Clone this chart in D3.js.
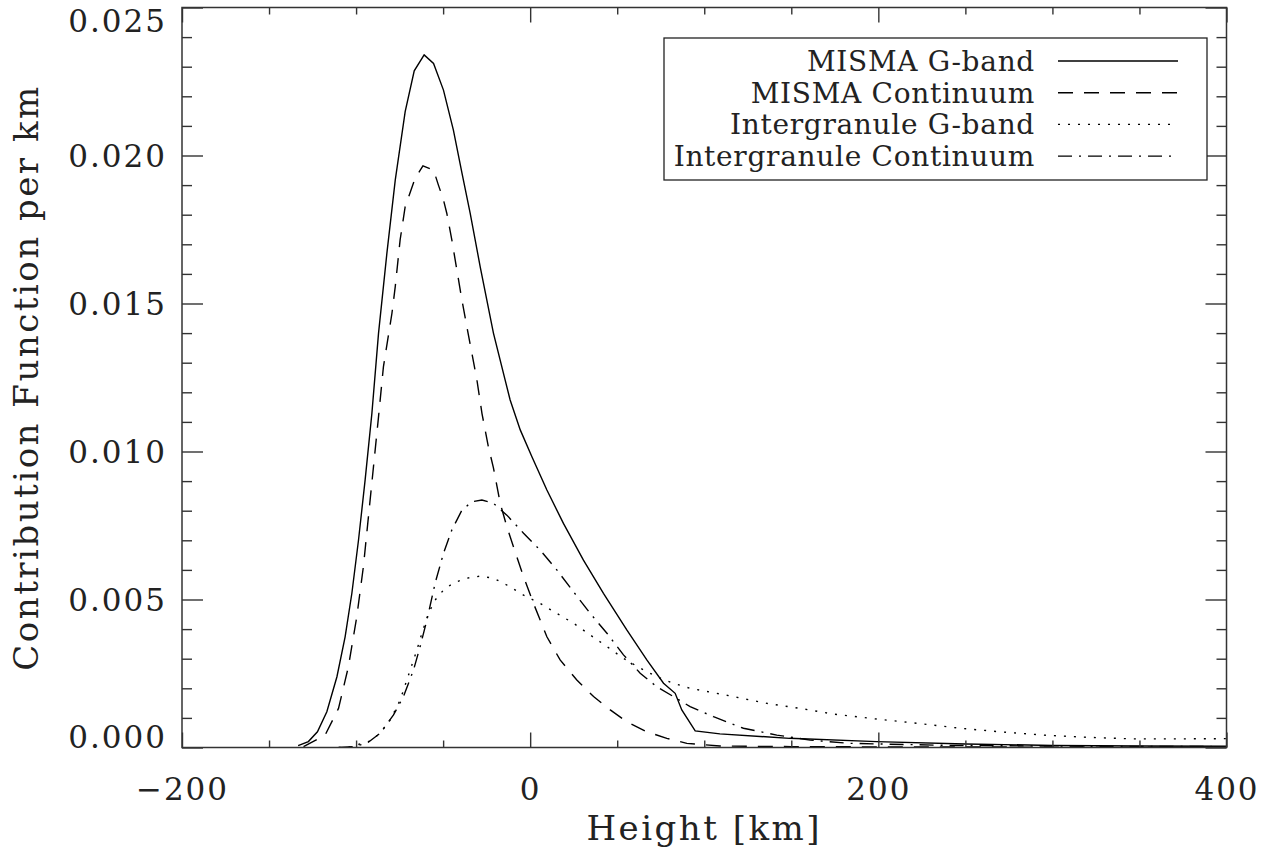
<!DOCTYPE html>
<html><head><meta charset="utf-8">
<script src="https://cdn.jsdelivr.net/npm/d3@7"></script>
<style>body{margin:0;background:#fff}</style>
</head><body><svg id="c" width="1273" height="856"></svg>
<script>
// ---- data ----
const xTickValues = [-200, 0, 200, 400];
const xMinorTicks = [-150, -100, -50, 50, 100, 150, 250, 300, 350];
const yTickValues = [0, 0.005, 0.010, 0.015, 0.020, 0.025];
const yMinorTicks = [0.001,0.002,0.003,0.004,0.006,0.007,0.008,0.009,0.011,0.012,0.013,0.014,0.016,0.017,0.018,0.019,0.021,0.022,0.023,0.024];
const seriesNames = ["MISMA G-band", "MISMA Continuum", "Intergranule G-band", "Intergranule Continuum"];
const xTitle = "Height [km]";
const yTitle = "Contribution Function per km";

const mismaGbandX = [-133.3,-127.4,-122.2,-116.8,-111.0,-106.3,-102.4,-98.6,-94.8,-90.9,-87.1,-82.3,-77.5,-71.8,-66.6,-60.9,-55.5,-49.8,-44.1,-39.2,-34.5,-28.7,-21.1,-14.4,-11.5,-5.7,1.0,9.6,19.1,30.6,42.1,55.5,67.0,76.6,83.3,87.1,94.8,109,149,199,250,300,350,400];
const mismaGbandY = [0.00006,0.0002,0.00053,0.00121,0.00239,0.00374,0.00522,0.00701,0.00904,0.0113,0.0140,0.0167,0.01917,0.02148,0.02286,0.0234,0.02311,0.02221,0.02086,0.01941,0.01806,0.01624,0.0140,0.01242,0.01174,0.01073,0.00982,0.0087,0.00757,0.00633,0.00521,0.00397,0.00296,0.00217,0.00183,0.00127,0.00056,0.00046,0.00031,0.0002,0.00012,0.00007,0.00005,0.00004];

const mismaContX = [-130.2,-117.8,-110.1,-104.4,-99.6,-95.8,-92.9,-90.0,-87.1,-84.3,-79.4,-77.5,-74.7,-71.8,-66.1,-61.6,-55.5,-52.7,-49.8,-47.9,-45.0,-42.1,-39.2,-36.0,-30.6,-27.7,-24.0,-21.1,-17.2,-13.4,-9.6,-3.8,1.9,9.6,17.2,26.8,36.4,46.0,55.5,67.0,78.5,90.0,109,150,200,250,300,350,400];
const mismaContY = [0.00003,0.00042,0.00132,0.00273,0.00442,0.00611,0.0078,0.00949,0.01118,0.01286,0.01467,0.01557,0.01715,0.01827,0.01923,0.01965,0.01951,0.0190,0.0185,0.01805,0.01715,0.01613,0.01512,0.0141,0.01242,0.01129,0.01016,0.00945,0.00825,0.00746,0.00678,0.00577,0.00487,0.00374,0.00296,0.00228,0.00172,0.00127,0.00087,0.00053,0.00031,0.00014,0.00005,0.00003,0.00002,0.00002,0.00001,0.00001,0.00001];

const interGbandX = [-110,-103.4,-91.9,-86.2,-80.4,-74.7,-68.9,-65.1,-62.2,-58.4,-54.6,-49.8,-44.1,-36.4,-28.7,-21.1,-13.4,-3.8,5.7,15.3,24.9,34.5,44.1,53.6,63.2,72.8,82.3,91.9,116.8,136,155.1,174.2,199.2,222.1,247,270,294.9,321.7,346.6,369.5,400];
const interGbandY = [0,0.00002,0.00022,0.00048,0.00093,0.0016,0.00262,0.00329,0.00386,0.00453,0.00498,0.00532,0.00556,0.00572,0.00579,0.00572,0.00549,0.00515,0.00487,0.00453,0.0042,0.0038,0.00341,0.00301,0.00268,0.00239,0.00217,0.0020,0.00172,0.00149,0.00132,0.00113,0.00096,0.00082,0.00065,0.00053,0.00042,0.00034,0.00029,0.00029,0.0003];

const interContX = [-110,-101.5,-93.8,-86.2,-78.5,-72.8,-67.0,-63.2,-59.3,-54.6,-49.8,-45.0,-39.2,-33.5,-27.7,-21.1,-13.4,-3.8,5.7,15.3,24.9,34.5,44.1,53.6,63.2,72.8,82.3,91.9,105.3,122.5,141.7,160.8,183.8,241,327,400];
const interContY = [0,0.00003,0.00014,0.00048,0.0011,0.00172,0.00262,0.00341,0.00431,0.00555,0.00656,0.00735,0.00802,0.0083,0.00836,0.00825,0.00785,0.00724,0.00667,0.0060,0.00526,0.00453,0.00386,0.00313,0.00251,0.00205,0.00172,0.00138,0.00104,0.00065,0.00042,0.00025,0.00014,0.00007,0.00004,0.00003];

// ---- layout / style ----
const L = 182, R = 1226.5, T = 7.5, B = 747.5;
const FONT = "'DejaVu Serif', 'Liberation Serif', serif";
const INK = "#222";
const styles = [
  {dash: null},
  {dash: "15,11"},
  {dash: "2,8"},
  {dash: "14,7,2,7"}
];
const series = [
  {x: mismaGbandX, y: mismaGbandY},
  {x: mismaContX, y: mismaContY},
  {x: interGbandX, y: interGbandY},
  {x: interContX, y: interContY}
];

const svg = d3.select("#c");
const x = d3.scaleLinear().domain([-200, 400]).range([L, R]);
const y = d3.scaleLinear().domain([0, 0.025]).range([B, T]);

svg.append("rect").attr("width", 1273).attr("height", 856).attr("fill", "#fff");
svg.append("clipPath").attr("id", "clip").append("rect")
  .attr("x", L).attr("y", T).attr("width", R - L).attr("height", B - T);

// curves
const line = d3.line().x(d => x(d[0])).y(d => y(d[1]));
series.forEach((s, i) => {
  svg.append("path").datum(d3.zip(s.x, s.y))
    .attr("d", line).attr("fill", "none")
    .attr("stroke", "#000").attr("stroke-width", 1.4)
    .attr("stroke-dasharray", styles[i].dash)
    .attr("clip-path", "url(#clip)");
});

function styleAxis(g) {
  g.select(".domain").remove();
  g.selectAll(".tick line").attr("stroke", "#333").attr("stroke-width", 1.4);
  g.selectAll("text").attr("font-family", FONT).attr("fill", INK);
}

// bottom axis
const gb = svg.append("g").attr("transform", `translate(0,${B})`)
  .call(d3.axisBottom(x).tickValues(xTickValues).tickSize(-15).tickFormat(d3.format("d")));
styleAxis(gb);
gb.selectAll("text").attr("y", 52.5).attr("dy", null).attr("font-size", 31).attr("letter-spacing", 2);
svg.append("g").attr("transform", `translate(0,${B})`)
  .call(d3.axisBottom(x).tickValues(xMinorTicks).tickSize(-7).tickFormat("")).call(styleAxis);
// top axis
svg.append("g").attr("transform", `translate(0,${T})`)
  .call(d3.axisTop(x).tickValues(xTickValues).tickSize(-15).tickFormat("")).call(styleAxis);
svg.append("g").attr("transform", `translate(0,${T})`)
  .call(d3.axisTop(x).tickValues(xMinorTicks).tickSize(-7).tickFormat("")).call(styleAxis);

// left axis
const gl = svg.append("g").attr("transform", `translate(${L},0)`)
  .call(d3.axisLeft(y).tickValues(yTickValues).tickSize(-21).tickPadding(15).tickFormat(d3.format(".3f")));
styleAxis(gl);
gl.selectAll("text").attr("font-size", 31).attr("letter-spacing", 2).attr("dy", "0.36em")
  .attr("y", d => d === 0.025 ? 13 : (d === 0 ? -11 : 0));
svg.append("g").attr("transform", `translate(${L},0)`)
  .call(d3.axisLeft(y).tickValues(yMinorTicks).tickSize(-10).tickFormat("")).call(styleAxis);
// right axis
svg.append("g").attr("transform", `translate(${R},0)`)
  .call(d3.axisRight(y).tickValues(yTickValues).tickSize(-21).tickFormat("")).call(styleAxis);
svg.append("g").attr("transform", `translate(${R},0)`)
  .call(d3.axisRight(y).tickValues(yMinorTicks).tickSize(-10).tickFormat("")).call(styleAxis);

// frame
svg.append("rect").attr("x", L).attr("y", T).attr("width", R - L).attr("height", B - T)
  .attr("fill", "none").attr("stroke", "#333").attr("stroke-width", 1.5);

// axis titles
svg.append("text").attr("x", (L + R) / 2).attr("y", 840).attr("text-anchor", "middle")
  .attr("font-family", FONT).attr("font-size", 34).attr("letter-spacing", 2.5).attr("fill", INK)
  .text(xTitle);
svg.append("text").attr("transform", `translate(38,${(T + B) / 2}) rotate(-90)`).attr("text-anchor", "middle")
  .attr("font-family", FONT).attr("font-size", 34).attr("letter-spacing", 2.5).attr("fill", INK)
  .text(yTitle);

// legend
const lg = svg.append("g");
lg.append("rect").attr("x", 664).attr("y", 38).attr("width", 543).attr("height", 142)
  .attr("fill", "#fff").attr("stroke", "#222").attr("stroke-width", 1.3);
seriesNames.forEach((name, i) => {
  const cy = 61 + i * 31.7;
  lg.append("text").attr("x", 1035).attr("y", cy).attr("dy", "0.36em").attr("text-anchor", "end")
    .attr("font-family", FONT).attr("font-size", 28).attr("letter-spacing", 0.7).attr("fill", INK)
    .text(name);
  lg.append("line").attr("x1", 1058).attr("x2", 1178).attr("y1", cy).attr("y2", cy)
    .attr("stroke", "#000").attr("stroke-width", 1.4).attr("stroke-dasharray", styles[i].dash);
});
</script></body></html>
